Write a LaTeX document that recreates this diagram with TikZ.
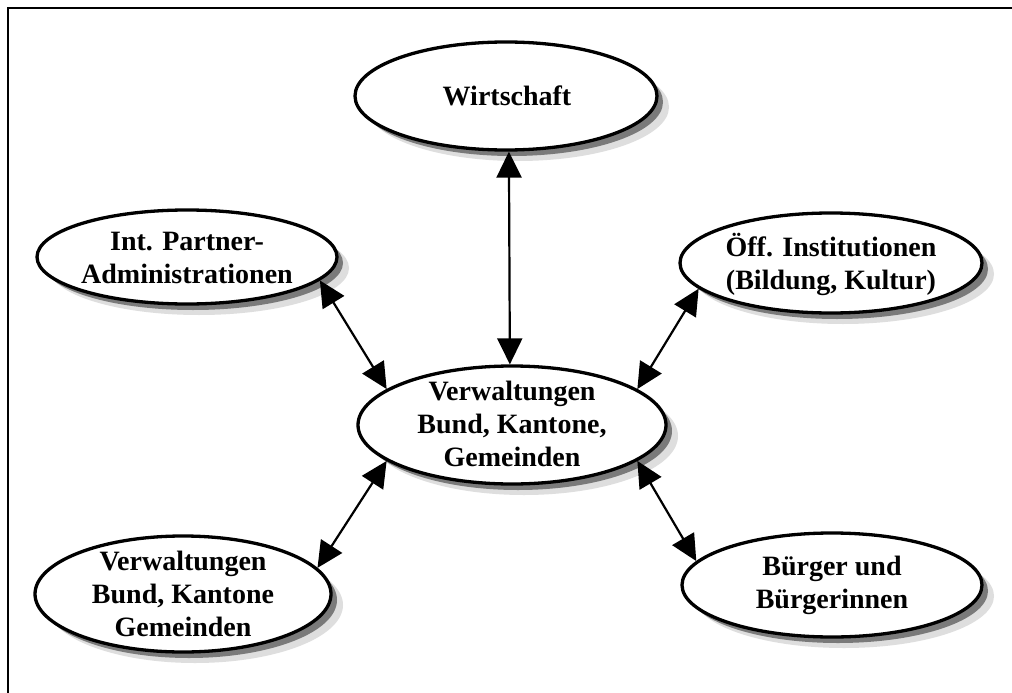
\documentclass[tikz,border=0pt]{standalone}
\usepackage{fontspec}
\setmainfont{Liberation Serif}
\usetikzlibrary{shapes.geometric,arrows.meta,shadows}
\begin{document}
\begin{tikzpicture}[x=1pt,y=-1pt,
  bubble/.style={ellipse, draw=black, line width=3.3pt, fill=white, inner sep=0pt,
    general shadow={fill=black!13, shadow xshift=12pt, shadow yshift=-11pt},
    general shadow={fill=black!52, shadow xshift=6pt, shadow yshift=-6pt}},
  caption/.style={align=center, font=\fontsize{28}{33}\selectfont\bfseries, inner sep=0pt},
  link/.style={line width=2.2pt, {Triangle[length=26pt,width=25pt]}-{Triangle[length=26pt,width=25pt]}}]
\useasboundingbox (0,0) rectangle (1012,693);
\clip (0,0) rectangle (1012,693);
\fill[white] (0,0) rectangle (1012,693);
% outer frame (only its top and left sides fall on the page)
\draw[line width=1.5pt] (8,8) rectangle (1040,720);

% ellipses
\node[bubble, minimum width=302pt, minimum height=108pt] (wi) at (506,96) {};
\node[bubble, minimum width=300pt, minimum height=94pt] (ip) at (187,257) {};
\node[bubble, minimum width=302pt, minimum height=100pt] (oe) at (831,263) {};
\node[bubble, minimum width=308pt, minimum height=118pt] (vw) at (512,425) {};
\node[bubble, minimum width=296pt, minimum height=116pt] (vk) at (183,594) {};
\node[bubble, minimum width=300pt, minimum height=104pt] (bu) at (832,585) {};

% labels
\node[caption] (twi) at (507,96) {Wirtschaft};
\node[caption] (tip) at (187,258) {Int. Partner-\\Administrationen};
\node[caption] (toe) at (831,264) {Öff. Institutionen\\(Bildung, Kultur)};
\node[caption] (tvw) at (512,424) {Verwaltungen\\Bund, Kantone,\\Gemeinden};
\node[caption] (tvk) at (183,594) {Verwaltungen\\Bund, Kantone\\Gemeinden};
\node[caption] (tbu) at (832,585) {Bürger und\\Bürgerinnen};

% connectors
\draw[link] (wi.-87) -- (vw.92);
\draw[link] (ip.-10) -- (vw.164);
\draw[link] (oe.-169) -- (vw.16);
\draw[link] (vk.11) -- (vw.-164);
\draw[link] (bu.170) -- (vw.-16);
\end{tikzpicture}
\end{document}
